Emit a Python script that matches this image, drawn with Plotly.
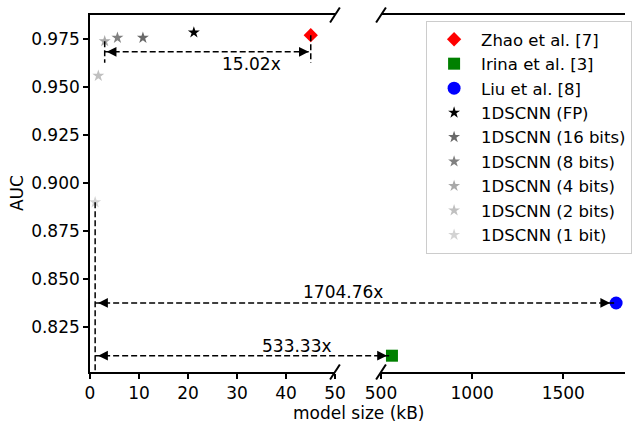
import plotly.graph_objects as go

# ---------------- data ----------------
names = ["Zhao et al. [7]", "Irina et al. [3]", "Liu et al. [8]",
         "1DSCNN (FP)", "1DSCNN (16 bits)", "1DSCNN (8 bits)",
         "1DSCNN (4 bits)", "1DSCNN (2 bits)", "1DSCNN (1 bit)"]
sizes_kb = [45.06, 560.0, 1790.0, 21.2, 10.8, 5.6, 3.0, 1.7, 1.05]
auc = [0.9772, 0.810, 0.8375, 0.9786, 0.9758, 0.9758, 0.974, 0.956, 0.890]
axis_of = ["x", "x2", "x2", "x", "x", "x", "x", "x", "x"]
symbols = ["diamond", "square", "circle", "star", "star", "star", "star", "star", "star"]
msizes = [11, 12, 13, 9, 9, 9, 9, 9, 9]
colors = ["#ff0000", "#008000", "#0000ff", "#000000", "#696969", "#808080",
          "#a9a9a9", "#c0c0c0", "#d3d3d3"]

ratio_labels = ["15.02x", "1704.76x", "533.33x"]
y_ticks = [0.825, 0.850, 0.875, 0.900, 0.925, 0.950, 0.975]
x_ticks_left = [0, 10, 20, 30, 40, 50]
x_ticks_right = [500, 1000, 1500]

# ---------------- layout geometry ----------------
W, H = 636, 424
ML, MR, MT, MB = 90, 0, 15, 52
PW, PH = W - ML - MR, H - MT - MB
dom_l = [0.0, 250 / PW]
dom_r = [297 / PW, 1.0]
rng_l = [0, 50]
rng_r = [500, 1838.7]
rng_y = [0.8015, 0.9877]
FONT = "DejaVu Sans"
FS = 17
FS_LEG = 16.5


def paper_x(x, axis):
    dom, rng = (dom_l, rng_l) if axis == "x" else (dom_r, rng_r)
    return dom[0] + (x - rng[0]) / (rng[1] - rng[0]) * (dom[1] - dom[0])


fig = go.Figure()
for i, n in enumerate(names):
    fig.add_trace(go.Scatter(
        x=[sizes_kb[i]], y=[auc[i]], name=n, mode="markers",
        xaxis=axis_of[i], yaxis="y", legendgroup=str(i),
        marker=dict(symbol=symbols[i], size=msizes[i], color=colors[i],
                    line=dict(width=0)),
        cliponaxis=False))

shapes = []
annotations = []
DASH = "6px,3px"
LW = 1.5


def dashed(x0, y0, x1, y1):
    shapes.append(dict(type="line", xref="paper", yref="y", x0=x0, y0=y0,
                       x1=x1, y1=y1, line=dict(color="black", width=LW, dash=DASH)))


def head(xp, y, direction, standoff):
    annotations.append(dict(x=xp, y=y, xref="paper", yref="y", ax=-12 * direction,
                            ay=0, showarrow=True, arrowhead=2, arrowsize=1.3,
                            arrowwidth=1.5, arrowcolor="black", standoff=standoff,
                            text=""))


idx = {n: i for i, n in enumerate(names)}
i_z, i_ir, i_li = idx["Zhao et al. [7]"], idx["Irina et al. [3]"], idx["Liu et al. [8]"]
i_4, i_1 = idx["1DSCNN (4 bits)"], idx["1DSCNN (1 bit)"]

# 15.02x arrow between 4-bit model and Zhao
y_a = 0.9685
xa0 = paper_x(sizes_kb[i_4], "x")
xa1 = paper_x(sizes_kb[i_z], "x")
dashed(xa0, y_a, xa1, y_a)
head(xa0, y_a, -1, 2)
head(xa1, y_a, 1, 2)
dashed(xa0, auc[i_4], xa0, y_a - 0.0057)
dashed(xa1, auc[i_z], xa1, y_a - 0.0057)
annotations.append(dict(x=paper_x(26.6, "x"), y=y_a, xref="paper", yref="y",
                        yshift=-12, text=ratio_labels[0], showarrow=False,
                        font=dict(family=FONT, size=FS, color="black")))

# vertical from 1-bit down
xb = paper_x(sizes_kb[i_1], "x")
dashed(xb, auc[i_1], xb, rng_y[0])

# 1704.76x arrow to Liu
y_l = auc[i_li]
xl1 = paper_x(sizes_kb[i_li], "x2")
dashed(xb, y_l, xl1, y_l)
head(xb, y_l, -1, 3)
head(xl1, y_l, 1, 6)
annotations.append(dict(x=(348 - ML) / PW, y=y_l, xref="paper", yref="y",
                        yshift=11, text=ratio_labels[1], showarrow=False,
                        font=dict(family=FONT, size=FS, color="black")))

# 533.33x arrow to Irina
y_i = auc[i_ir]
xi1 = paper_x(sizes_kb[i_ir], "x2")
dashed(xb, y_i, xi1, y_i)
head(xb, y_i, -1, 3)
head(xi1, y_i, 1, 5)
annotations.append(dict(x=paper_x(34.6, "x"), y=y_i, xref="paper", yref="y",
                        yshift=10, text=ratio_labels[2], showarrow=False,
                        font=dict(family=FONT, size=FS, color="black")))

# axis break marks
ddx, ddy = 5 / PW, 7.5 / PH
for xe in (dom_l[1], dom_r[0]):
    for ye in (0.0, 1.0):
        shapes.append(dict(type="line", xref="paper", yref="paper",
                           x0=xe - ddx, y0=ye - ddy, x1=xe + ddx, y1=ye + ddy,
                           line=dict(color="black", width=2)))

# axis titles
annotations.append(dict(x=(15 - ML) / PW, y=0.5, xref="paper", yref="paper",
                        text="AUC", textangle=-90, showarrow=False,
                        xanchor="center", yanchor="middle",
                        font=dict(family=FONT, size=FS, color="black")))
annotations.append(dict(x=(364 - ML) / PW, y=-(H - (MT + PH)) / PH, xref="paper",
                        yref="paper", text="model size (kB)", showarrow=False,
                        xanchor="center", yanchor="bottom", borderpad=0,
                        font=dict(family=FONT, size=FS, color="black")))

axis_common = dict(showgrid=False, zeroline=False, showline=True, linecolor="black",
                   linewidth=1.6, ticks="outside", ticklen=5, tickwidth=1.5,
                   tickcolor="black", tickfont=dict(family=FONT, size=FS, color="black"))

fig.update_layout(
    width=W, height=H, margin=dict(l=ML, r=MR, t=MT, b=MB),
    paper_bgcolor="white", plot_bgcolor="white",
    font=dict(family=FONT, size=FS, color="black"),
    xaxis=dict(domain=dom_l, range=rng_l, tickvals=x_ticks_left, mirror=True,
               anchor="y", **axis_common),
    xaxis2=dict(domain=dom_r, range=rng_r, tickvals=x_ticks_right, mirror=True,
                anchor="y", **axis_common),
    yaxis=dict(range=rng_y, tickvals=y_ticks, tickformat=".3f", anchor="x",
               **axis_common),
    legend=dict(x=(433 - ML) / PW, y=(MT + PH - 21) / PH, xanchor="left",
                yanchor="top", bgcolor="white", bordercolor="#cccccc",
                borderwidth=1, font=dict(family=FONT, size=FS_LEG, color="black"),
                itemwidth=44, traceorder="grouped", tracegroupgap=0),
    shapes=shapes, annotations=annotations, showlegend=True,
)

fig.write_html("out.html")
